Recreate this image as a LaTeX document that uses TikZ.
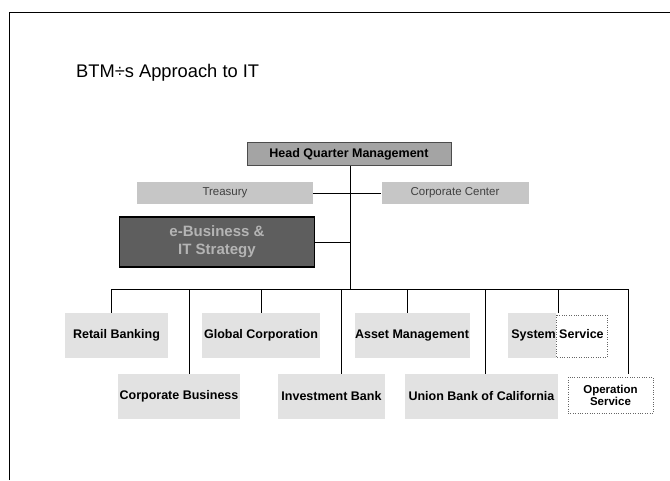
\documentclass[tikz,border=0pt]{standalone}
\usepackage{fontspec}
\setmainfont{Liberation Sans}
\definecolor{hqfill}{HTML}{A4A4A4}
\definecolor{midfill}{HTML}{C6C6C6}
\definecolor{ebfill}{HTML}{5E5E5E}
\definecolor{ebtext}{HTML}{B4B4B4}
\definecolor{lowfill}{HTML}{E2E2E2}
\begin{document}
\begin{tikzpicture}[x=1pt,y=-1pt,
  lbl/.style={font=\bfseries\fontsize{12.5}{14}\selectfont, text=black},
  hqbox/.style={rectangle, inner sep=0pt, fill=hqfill, draw=black!70, line width=0.8pt, lbl},
  midbox/.style={rectangle, inner sep=0pt, fill=midfill, font=\fontsize{11.5}{13}\selectfont, text=black!75},
  ebbox/.style={rectangle, inner sep=0pt, fill=ebfill, draw=black, line width=1.5pt, align=center,
    font=\bfseries\fontsize{15}{18}\selectfont, text=ebtext},
  lowbox/.style={rectangle, inner sep=0pt, fill=lowfill, minimum height=45, lbl},
  dotbox/.style={rectangle, inner sep=0pt, draw=black!60, dotted, fill=white, align=center, lbl, font=\bfseries\fontsize{11.5}{12}\selectfont},
  wire/.style={line width=1pt, black}]
\useasboundingbox (0,0) rectangle (670,480);
% frame
\draw[line width=1pt] (9,480) -- (9,12) -- (670,12);
% title
\node[anchor=base west, inner sep=0pt, font=\fontsize{18.3}{22}\selectfont] (title) at (76,77) {BTM÷s Approach to IT};
% upper boxes
\node[hqbox, minimum width=204, minimum height=23] (hq) at (349,154) {Head Quarter Management};
\node[midbox, minimum width=176, minimum height=22] (tr) at (225,193) {Treasury};
\node[midbox, minimum width=147, minimum height=22] (cc) at (455,193) {Corporate Center};
\node[ebbox, minimum width=195, minimum height=50] (eb) at (217,242) {e-Business \&\\IT Strategy};
% lower boxes, level 1
\node[lowbox, minimum width=103] (rb) at (116.5,335.5) {Retail Banking};
\node[lowbox, minimum width=118] (gc) at (261,335.5) {Global Corporation};
\node[lowbox, minimum width=115] (am) at (412,335.5) {Asset Management};
\fill[lowfill] (508,313) rectangle (556,358);
\draw[black!60, dotted] (556,315) rectangle (607,357);
\node[lbl, inner sep=0pt, minimum width=99, minimum height=45] (ss) at (557.5,335.5) {System Service};
% lower boxes, level 2
\node[lowbox, minimum width=122] (cb) at (179,396.5) {Corporate Business};
\node[lowbox, minimum width=107] (ib) at (331.5,396.5) {Investment Bank};
\node[lowbox, minimum width=153] (ub) at (481.5,396.5) {Union Bank of California};
\node[dotbox, minimum width=85, minimum height=36] (os) at (610.5,395) {Operation\\Service};
% connectors
\coordinate (bus) at (350,289);
\coordinate (busL) at (111,289);
\coordinate (busR) at (628,289);
\draw[wire] (hq.south -| bus) -- (bus);
\draw[wire] (tr.east) -- (cc.west);
\draw[wire] (eb.east) -- (eb.east -| bus);
\draw[wire] (busL) -- (busR);
\coordinate (d1) at (111,289);
\coordinate (d2) at (189,289);
\coordinate (d3) at (261,289);
\coordinate (d4) at (341,289);
\coordinate (d5) at (407,289);
\coordinate (d6) at (485,289);
\coordinate (d7) at (558,289);
\coordinate (d8) at (628,289);
\draw[wire] (d1) -- (d1 |- rb.north);
\draw[wire] (d2) -- (d2 |- cb.north);
\draw[wire] (d3) -- (d3 |- gc.north);
\draw[wire] (d4) -- (d4 |- ib.north);
\draw[wire] (d5) -- (d5 |- am.north);
\draw[wire] (d6) -- (d6 |- ub.north);
\draw[wire] (d7) -- (d7 |- ss.north);
\draw[wire] (d8) -- (d8 |- cb.north);
\end{tikzpicture}
\end{document}
